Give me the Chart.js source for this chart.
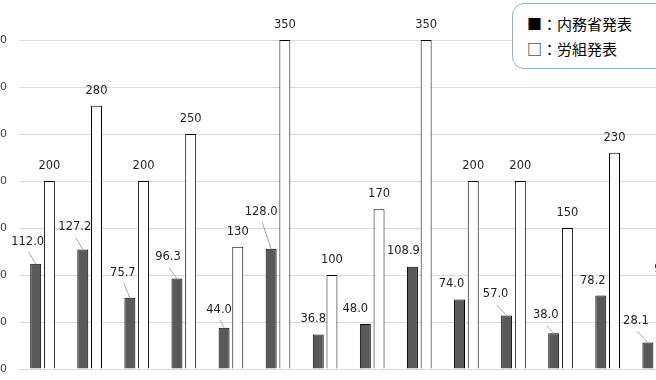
<!DOCTYPE html>
<html>
<head>
<meta charset="utf-8">
<script src="https://cdn.jsdelivr.net/npm/chart.js@4/dist/chart.umd.min.js"></script>
<style>
  html, body { margin: 0; padding: 0; background: #fff; }
  body { width: 656px; height: 380px; overflow: hidden; position: relative; }
  #c { position: absolute; left: -30px; top: 0; }
  #legendBox {
    position: absolute; left: 512px; top: 3px; width: 170px; height: 64px;
    border: 1px solid #8fb3e0; border-radius: 12px; background: #fff;
    font-family: "Noto Sans CJK JP", sans-serif; font-size: 15px; color: #000;
  }
  #legendBox div { position: absolute; left: 14px; line-height: 20px; white-space: nowrap; }
</style>
</head>
<body>
<canvas id="c" width="710" height="420"></canvas>
<div id="legendBox">
  <div style="top:10px">■：内務省発表</div>
  <div style="top:35px">□：労組発表</div>
</div>
<script>
// ---- data ----
const categories = ["1/19", "1/31", "2/7", "2/11", "2/16", "3/7", "3/11", "3/15", "3/23", "3/28", "4/6", "4/13", "5/1", "6/6"];
const interiorValues = [112.0, 127.2, 75.7, 96.3, 44.0, 128.0, 36.8, 48.0, 108.9, 74.0, 57.0, 38.0, 78.2, 28.1];
const unionValues = [200, 280, 200, 250, 130, 350, 100, 170, 350, 200, 200, 150, 230, 90];
const seriesNames = ["内務省発表", "労組発表"];
const yTicks = [0, 50, 100, 150, 200, 250, 300, 350];

// ---- label layout (pixel nudges of the dark-bar labels relative to the bar top) ----
const labelNudge = [
  [-8, -22], [-8, -22], [-7, -25], [-9, -21], [-5, -18], [-10, -37], [-5, -15],
  [-10, -15], [-9, -16], [-8, -15], [-11, -21], [-8, -18], [-8, -14], [-12, -22]
];

const labelFont = '11.5px "DejaVu Sans", sans-serif';

const labelPlugin = {
  id: 'barLabels',
  afterDatasetsDraw(chart) {
    const ctx = chart.ctx;
    ctx.save();
    ctx.font = labelFont;
    ctx.textAlign = 'center';
    ctx.textBaseline = 'middle';
    // dark bars
    const m0 = chart.getDatasetMeta(0);
    m0.data.forEach((bar, i) => {
      const v = interiorValues[i];
      if (v == null) return;
      const n = labelNudge[i] || [-8, -20];
      const lx = bar.x + n[0], ly = bar.y + n[1];
      if (n[1] < -17) {
        ctx.strokeStyle = '#a6a6a6';
        ctx.lineWidth = 1;
        ctx.beginPath();
        ctx.moveTo(lx + 1, ly + 10.5);
        ctx.lineTo(bar.x, bar.y);
        ctx.stroke();
      }
      ctx.fillStyle = '#1f1f1f';
      ctx.fillText(v.toFixed(1), lx, ly);
    });
    // white bars
    const m1 = chart.getDatasetMeta(1);
    m1.data.forEach((bar, i) => {
      const v = unionValues[i];
      if (v == null) return;
      ctx.fillStyle = '#1f1f1f';
      ctx.fillText(String(v), bar.x, bar.y - 15);
    });
    ctx.restore();
  }
};

new Chart(document.getElementById('c'), {
  type: 'bar',
  data: {
    labels: categories,
    datasets: [
      { label: seriesNames[0], data: interiorValues, backgroundColor: '#595959', borderColor: '#000', borderWidth: 1,
        categoryPercentage: 0.582, barPercentage: 0.80 },
      { label: seriesNames[1], data: unionValues, backgroundColor: '#ffffff', borderColor: '#000', borderWidth: 1,
        categoryPercentage: 0.582, barPercentage: 0.80 }
    ]
  },
  options: {
    responsive: false,
    devicePixelRatio: 1,
    animation: false,
    layout: { padding: { top: 40, right: 1.7, left: 0, bottom: 0 } },
    plugins: { legend: { display: false }, tooltip: { enabled: false } },
    scales: {
      x: {
        grid: { display: false },
        border: { display: false },
        ticks: { padding: 14, font: { family: 'DejaVu Sans', size: 11 }, color: '#404040' },
        afterFit(s) { s.height = 51; }
      },
      y: {
        min: yTicks[0],
        max: yTicks[yTicks.length - 1],
        afterBuildTicks(s) { s.ticks = yTicks.map(v => ({ value: v })); },
        grid: { color: '#d9d9d9', lineWidth: 1, drawTicks: false },
        border: { display: false },
        ticks: { padding: 12, font: { family: 'DejaVu Sans', size: 11 }, color: '#404040' },
        afterFit(s) { s.width = 49; }
      }
    }
  },
  plugins: [labelPlugin]
});
</script>
</body>
</html>
